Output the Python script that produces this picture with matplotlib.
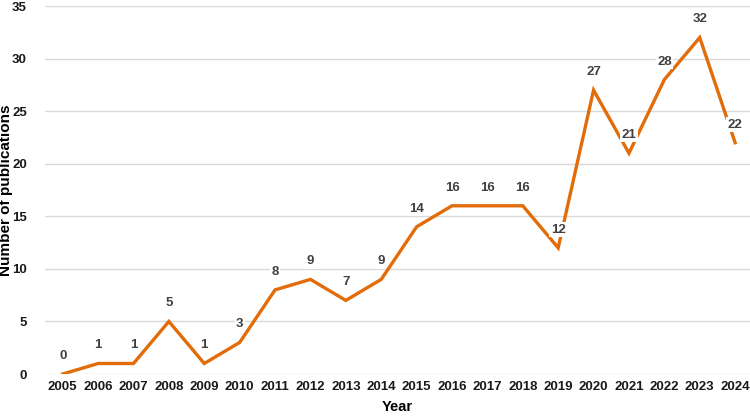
import numpy as np
import matplotlib.pyplot as plt

plt.rcParams['font.family'] = ['Liberation Sans', 'DejaVu Sans']

years = [2005, 2006, 2007, 2008, 2009, 2010, 2011, 2012, 2013, 2014,
         2015, 2016, 2017, 2018, 2019, 2020, 2021, 2022, 2023, 2024]
publications = [0, 1, 1, 5, 1, 3, 8, 9, 7, 9,
                14, 16, 16, 16, 12, 27, 21, 28, 32, 22]
y_ticks = [0, 5, 10, 15, 20, 25, 30, 35]

fig = plt.figure(figsize=(7.5, 4.2), dpi=100)
ax = fig.add_axes([0.06, 0.1095, 0.94, 0.8762])

x = np.arange(len(years))
ax.plot(x, publications, color='#E36C0A', lw=2.4, solid_joinstyle='miter', zorder=3)

for xi, v in zip(x, publications):
    ax.annotate(str(v), (xi, v), xytext=(0, 13), textcoords='offset points',
                ha='center', va='center', fontsize=9.5, fontweight='bold',
                color='#404040', zorder=4,
                bbox=dict(boxstyle='square,pad=0.1', fc='white', ec='none'))

ax.set_xlim(-0.5, len(years) - 0.58)
ax.set_ylim(0, 35)
ax.set_yticks(y_ticks)
ax.set_xticks(x)
ax.set_xticklabels([str(y) for y in years])
ax.grid(axis='y', color='#D9D9D9', lw=1)
ax.set_axisbelow(True)
for s in ax.spines.values():
    s.set_visible(False)
ax.tick_params(length=0)
ax.tick_params(axis='y', pad=13)
ax.tick_params(axis='x', pad=5)
for lab in ax.get_xticklabels() + ax.get_yticklabels():
    lab.set_fontsize(9.5)
    lab.set_fontweight('bold')
    lab.set_color('#1a1a1a')

ax.set_xlabel('Year', fontsize=10.5, fontweight='bold', labelpad=5)
ax.set_ylabel('Number of publications', fontsize=11, fontweight='bold')
ax.yaxis.set_label_coords(-0.045, 0.5)

fig.savefig('out.png', dpi=100)
